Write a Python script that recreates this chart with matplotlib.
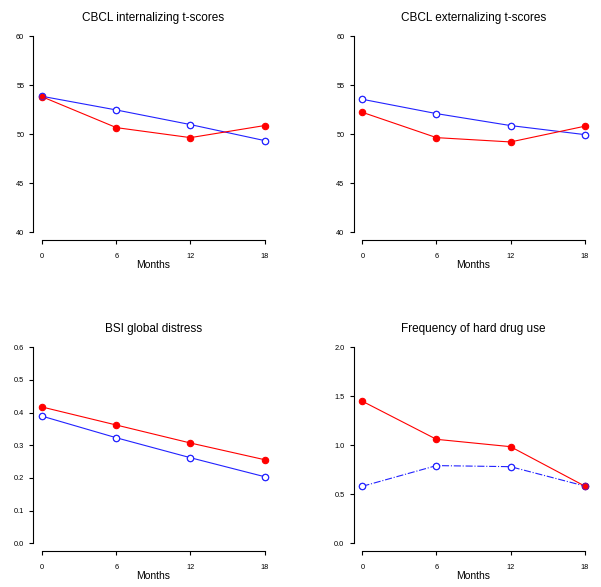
import matplotlib
matplotlib.use("Agg")
import matplotlib.pyplot as plt

plt.rcParams["font.family"] = ["Liberation Sans", "DejaVu Sans"]

months = [0, 6, 12, 18]

titles = ["CBCL internalizing t-scores", "CBCL externalizing t-scores",
          "BSI global distress", "Frequency of hard drug use"]

int_red = [53.8, 50.66, 49.64, 50.87]
int_blue = [53.85, 52.46, 50.97, 49.34]
ext_red = [52.22, 49.64, 49.2, 50.8]
ext_blue = [53.55, 52.09, 50.87, 49.95]
bsi_red = [0.417, 0.362, 0.307, 0.256]
bsi_blue = [0.389, 0.323, 0.262, 0.204]
drug_red = [1.449, 1.061, 0.986, 0.585]
drug_blue = [0.582, 0.793, 0.782, 0.585]

yticks_cbcl = [40, 45, 50, 55, 60]
yticks_bsi = [0.0, 0.1, 0.2, 0.3, 0.4, 0.5, 0.6]
yticks_drug = [0.0, 0.5, 1.0, 1.5, 2.0]

panels = [
    (titles[0], int_red, int_blue, yticks_cbcl, ["40", "45", "50", "55", "60"], "-"),
    (titles[1], ext_red, ext_blue, yticks_cbcl, ["40", "45", "50", "55", "60"], "-"),
    (titles[2], bsi_red, bsi_blue, yticks_bsi, ["0.0", "0.1", "0.2", "0.3", "0.4", "0.5", "0.6"], "-"),
    (titles[3], drug_red, drug_blue, yticks_drug, ["0.0", "0.5", "1.0", "1.5", "2.0"], "-."),
]

W, H = 601, 587
fig = plt.figure(figsize=(W / 100, H / 100), dpi=100)

# axes boxes in pixels: left, bottom (measured from top)
boxes = [(33.4, 240.0), (353.5, 240.0), (33.4, 551.2), (353.5, 551.2)]
bw, bh = 240.0, 211.8

red = "#ff0000"
blue = "#2222ff"

for (title, rv, bv, yt, ytl, bls), (left, bottom) in zip(panels, boxes):
    ax = fig.add_axes([left / W, (H - bottom) / H, bw / W, bh / H])
    ax.set_xlim(-0.72, 18.72)
    span = yt[-1] - yt[0]
    ax.set_ylim(yt[0] - 0.04 * span, yt[-1] + 0.04 * span)

    ax.plot(months, bv, color=blue, lw=0.8, ls=bls, zorder=2)
    ax.plot(months, bv, "o", ms=4.6, mfc="white", mec=blue, mew=0.8, zorder=3)
    ax.plot(months, rv, color=red, lw=0.8, zorder=4)
    ax.plot(months, rv, "o", ms=4.6, mfc=red, mec=red, mew=0.8, zorder=5)
    ax.plot(months, bv, "o", ms=4.6, mfc="none", mec=blue, mew=0.8, zorder=6, alpha=0.6)

    for s in ["top", "right"]:
        ax.spines[s].set_visible(False)
    ax.spines["left"].set_bounds(yt[0], yt[-1])
    ax.spines["bottom"].set_bounds(0, 18)
    for s in ["left", "bottom"]:
        ax.spines[s].set_linewidth(0.8)

    ax.set_xticks(months)
    ax.set_xticklabels([str(m) for m in months])
    ax.set_yticks(yt)
    ax.set_yticklabels(ytl)
    ax.tick_params(length=3, width=0.8, labelsize=5.3, pad=6)
    ax.tick_params(axis="y", pad=3.5)
    ax.set_title(title, fontsize=8.5, pad=5)
    ax.set_xlabel("Months", fontsize=7.5, labelpad=0)

fig.savefig("out.png", dpi=100)
